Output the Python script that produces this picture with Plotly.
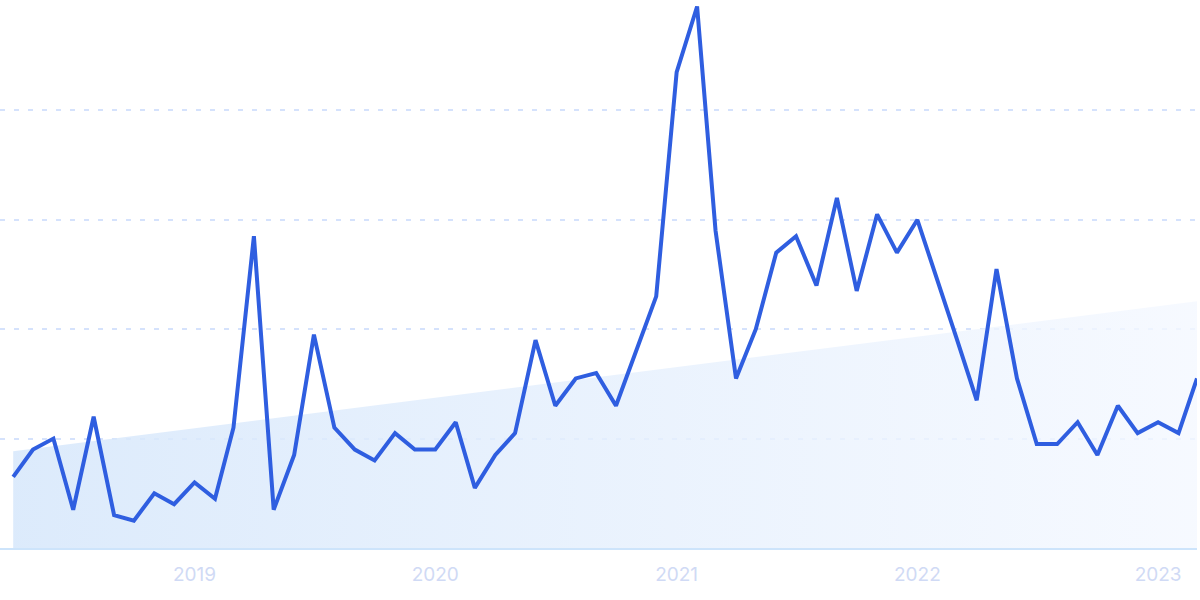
import plotly.graph_objects as go
import pandas as pd

months = pd.date_range("2018-04-01", "2023-03-01", freq="MS")
interest = [13, 18, 20, 7, 24, 6, 5, 10, 8, 12,
            9, 22, 57, 7, 17, 39, 22, 18, 16, 21,
            18, 18, 23, 11, 17, 21, 38, 26, 31, 32,
            26, 36, 46, 87, 99, 58, 31, 40, 54, 57,
            48, 64, 47, 61, 54, 60, 49, 38.5, 27, 51,
            31, 19, 19, 23, 17, 26, 21, 23, 21, 31]
trend_dates = [months[0], months[-1]]
trend_values = [17.7, 45.1]
year_ticks = ["2019-01-01", "2020-01-01", "2021-01-01", "2022-01-01", "2023-01-01"]
year_labels = ["2019", "2020", "2021", "2022", "2023"]

fig = go.Figure()
fig.add_trace(go.Scatter(
    x=trend_dates, y=trend_values, mode="lines",
    line=dict(width=0), fill="tozeroy",
    fillgradient=dict(type="horizontal",
                      colorscale=[[0, "rgba(214,231,251,0.85)"], [1, "rgba(244,248,255,0.8)"]]),
    hoverinfo="skip", showlegend=False))
fig.add_trace(go.Scatter(
    x=months, y=interest, mode="lines",
    line=dict(color="#2f5ee0", width=4),
    showlegend=False))

fig.update_layout(
    width=1200, height=600,
    margin=dict(l=0, r=3, t=1, b=52),
    paper_bgcolor="white", plot_bgcolor="white",
    font=dict(family="Inter, Roboto, sans-serif"),
)
fig.update_xaxes(
    type="date",
    range=[pd.Timestamp("2018-04-01") - pd.Timedelta(days=20), pd.Timestamp("2023-03-01")],
    tickvals=year_ticks, ticktext=year_labels,
    tickfont=dict(size=19, color="#d0daf5"),
    showgrid=False, zeroline=False,
    showline=True, linecolor="#cde4fb", linewidth=1.5,
    ticks="", ticklabelstandoff=8,
)
fig.update_yaxes(
    range=[0, 100], dtick=20,
    showgrid=True, gridcolor="#d5e2fc", gridwidth=1.6, griddash="5px,9px",
    zeroline=False, showticklabels=False, ticks="",
)
fig.write_html("out.html", config={"displayModeBar": False},
               post_script="document.body.style.margin='0px';")
